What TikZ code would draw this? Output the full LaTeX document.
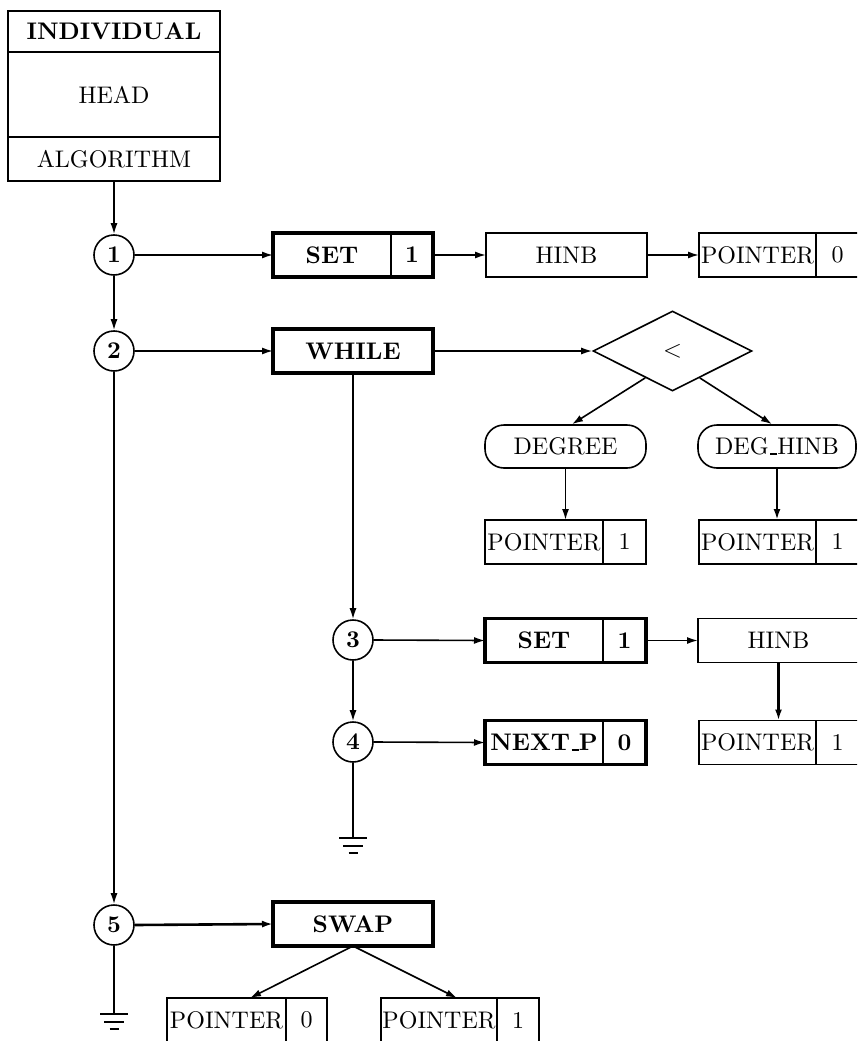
\documentclass[tikz,border=0pt]{standalone}
\usepackage{fontspec}
% the 10pt design of Latin Modern, scaled up, for the wide classic look
\setmainfont{lmroman10}[Extension=.otf, UprightFont=*-regular, BoldFont=*-bold, ItalicFont=*-italic, BoldItalicFont=*-bolditalic]
\usetikzlibrary{arrows.meta,shapes.geometric,calc}
% low underscore rule in the style of the classic \_
\newcommand{\lowbar}{\leavevmode\kern.06em\vbox{\hrule height 1.8pt width .3em}}
\begin{document}
\begin{tikzpicture}[x=1pt,y=-1pt,
  every node/.style={font=\fontsize{24}{29}\selectfont},
  conn/.style={line width=1.6pt},
  heavyconn/.style={line width=2.6pt},
  arr/.style={conn,-{Latex[length=11pt,width=7pt]}},
  heavyarr/.style={heavyconn,-{Latex[length=11pt,width=7pt]}},
  cell/.style={draw,line width=1.6pt,minimum height=44pt,inner sep=0pt,outer sep=0pt},
  frame/.style={draw,line width=3.6pt},
  headcell/.style={draw,line width=2.2pt,minimum width=212pt,inner sep=0pt,outer sep=0pt},
  num/.style={circle,draw,line width=1.6pt,minimum size=40pt,inner sep=0pt,font=\fontsize{24}{29}\selectfont\bfseries},
  pill/.style={draw,line width=1.6pt,rounded corners=19pt,minimum height=43pt,inner sep=0pt},
  gnd/.style={line width=2pt}
]
\useasboundingbox (0,0) rectangle (857,1041);
\clip (0,0) rectangle (857,1041);

% ---- record header ----
\node[headcell,minimum height=41pt] (ind) at (114,31.5) {\bfseries INDIVIDUAL};
\node[headcell,minimum height=85pt] (head) at (114,94.5) {HEAD};
\node[headcell,minimum height=44pt] (alg) at (114,159) {ALGORITHM};

% ---- step circles ----
\node[num] (c1) at (114,255) {1};
\node[num] (c2) at (114,351) {2};
\node[num] (c5) at (114,925) {5};
\node[num] (c3) at (353,640) {3};
\node[num] (c4) at (353,742) {4};

% ---- row 1 ----
\node[cell,minimum width=118pt] (s1) at (332,255) {\bfseries SET};
\node[cell,minimum width=42pt,anchor=west] (s1v) at (s1.east) {\bfseries 1};
\draw[frame] (s1.north west) rectangle (s1v.south east);
\node[cell,minimum width=161pt] (h1) at (566.5,255) {HINB};
\node[cell,minimum width=117pt] (p1) at (757.5,255) {POINTER};
\node[cell,minimum width=43pt,anchor=west] (p1v) at (p1.east) {0};

% ---- row 2 ----
\node[cell,minimum width=160pt] (wh) at (353,351) {\bfseries WHILE};
\draw[frame] (wh.north west) rectangle (wh.south east);
\node[diamond,draw,line width=1.6pt,minimum width=159pt,minimum height=80pt,inner sep=0pt] (cmp) at (672.5,351) {$<$};
\node[pill,minimum width=161pt] (deg) at (565.5,446.5) {DEGREE};
\node[pill,minimum width=158pt] (dh) at (777,446.5) {DEG\lowbar HINB};
\node[cell,minimum width=118pt] (p2) at (544,542) {POINTER};
\node[cell,minimum width=43pt,anchor=west] (p2v) at (p2.east) {1};
\node[cell,minimum width=117pt] (p3) at (757.5,542) {POINTER};
\node[cell,minimum width=43pt,anchor=west] (p3v) at (p3.east) {1};

% ---- row 3 ----
\node[cell,minimum width=118pt] (s3) at (544,640.5) {\bfseries SET};
\node[cell,minimum width=43pt,anchor=west] (s3v) at (s3.east) {\bfseries 1};
\draw[frame] (s3.north west) rectangle (s3v.south east);
\node[cell,minimum width=161pt] (h3) at (778.5,640.5) {HINB};
\node[cell,minimum width=117pt] (p4) at (757.5,742.5) {POINTER};
\node[cell,minimum width=43pt,anchor=west] (p4v) at (p4.east) {1};

% ---- row 4 ----
\node[cell,minimum width=118pt] (np) at (544,742.5) {\bfseries NEXT\lowbar P};
\node[cell,minimum width=43pt,anchor=west] (npv) at (np.east) {\bfseries 0};
\draw[frame] (np.north west) rectangle (npv.south east);

% ---- row 5 ----
\node[cell,minimum width=160pt] (sw) at (353,924) {\bfseries SWAP};
\draw[frame] (sw.north west) rectangle (sw.south east);
\node[cell,minimum width=119pt] (p5) at (226.5,1020) {POINTER};
\node[cell,minimum width=41pt,anchor=west] (p5v) at (p5.east) {0};
\node[cell,minimum width=116pt] (p6) at (439,1020) {POINTER};
\node[cell,minimum width=42pt,anchor=west] (p6v) at (p6.east) {1};

% ---- ground points ----
\coordinate (g4) at (353,838);
\coordinate (g5) at (114,1014);

% ---- control flow ----
\draw[arr] (alg.south) -- (c1.north);
\draw[arr] (c1.south) -- (c2.north);
\draw[arr] (c2.south) -- (c5.north);
\draw[arr] (wh.south) -- (c3.north);
\draw[arr] (c3.south) -- (c4.north);
\draw[conn] (c4.south) -- (g4);
\draw[conn] (c5.south) -- (g5);

% ---- statements ----
\draw[arr] (c1.east) -- (s1.west);
\draw[arr] (s1v.east) -- (h1.west);
\draw[arr] (h1.east) -- (p1.west);
\draw[arr] (c2.east) -- (wh.west);
\draw[arr] (wh.east) -- (cmp.west);
\draw[arr] ($(cmp.west)!0.66!(cmp.south)$) -- ([xshift=6.5pt]deg.north);
\draw[arr] ($(cmp.south)!0.34!(cmp.east)$) -- ([xshift=-5pt]dh.north);
\draw[arr] (deg.south) -- (deg.south |- p2.north);
\draw[heavyarr] (dh.south) -- (dh.south |- p3.north);
\draw[arr] (c3.east) -- (s3.west);
\draw[arr] (s3v.east) -- (h3.west);
\draw[heavyarr] (h3.south) -- (h3.south |- p4.north);
\draw[arr] (c4.east) -- (np.west);
\draw[heavyarr] (c5.east) -- (sw.west);
\draw[arr] (sw.south) -- ([xshift=23.5pt]p5.north);
\draw[arr] (sw.south) -- ([xshift=18pt]p6.north);

% ---- ground symbols ----
\foreach \g in {g4,g5} {
  \draw[gnd] ([xshift=-14pt]\g) -- ([xshift=14pt]\g);
  \draw[gnd] ([xshift=-10pt,yshift=-7.5pt]\g) -- ([xshift=10pt,yshift=-7.5pt]\g);
  \draw[gnd] ([xshift=-4.5pt,yshift=-15pt]\g) -- ([xshift=4.5pt,yshift=-15pt]\g);
}
\end{tikzpicture}
\end{document}
